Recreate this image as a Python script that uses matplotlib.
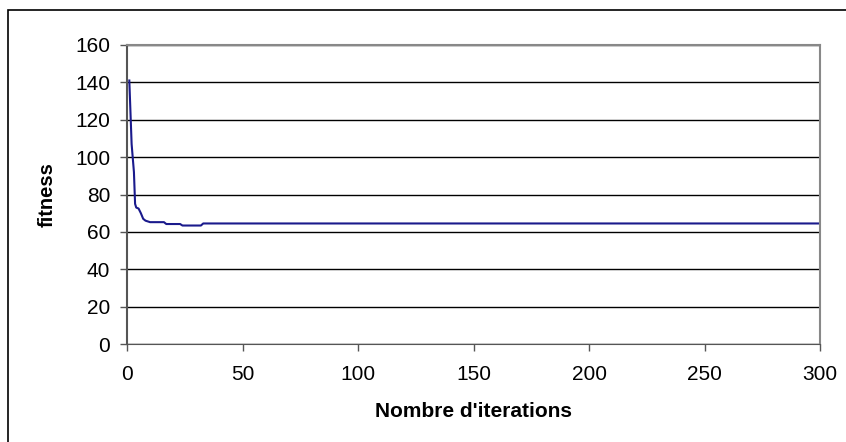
import matplotlib.pyplot as plt
from matplotlib.patches import Rectangle

# fitness values at the iterations where they change (step curve, held until 300)
iterations = [1, 2, 3, 3.5, 4, 5, 6, 7, 8, 10, 16, 17, 23, 24, 32, 33, 300]
fitness = [141, 107, 92, 75, 73, 72.5, 70, 67, 66, 65.2, 65.2, 64.2, 64.2, 63.4, 63.4, 64.5, 64.5]

x_ticks = [0, 50, 100, 150, 200, 250, 300]
y_ticks = [0, 20, 40, 60, 80, 100, 120, 140, 160]

plt.rcParams['font.family'] = ['Liberation Sans', 'DejaVu Sans']

W, H = 846, 442
fig = plt.figure(figsize=(W / 100, H / 100), dpi=100)
ax = fig.add_axes([127 / W, 1 - 344 / H, (820 - 127) / W, (344 - 45) / H])

# outer chart border (only left and top visible in the crop)
fig.patches.append(Rectangle((8 / W, -0.1), 1.2, 1 - 10 / H + 0.1,
                             transform=fig.transFigure, fill=False,
                             edgecolor='black', linewidth=1.2))

ax.plot(iterations, fitness, color='#1a1a8c', linewidth=1.5)

ax.set_xlim(0, 300)
ax.set_ylim(0, 160)
ax.set_xticks(x_ticks)
ax.set_yticks(y_ticks)
ax.grid(axis='y', color='black', linewidth=1)
ax.set_axisbelow(True)

for side in ['top', 'right']:
    ax.spines[side].set_color('#888888')
    ax.spines[side].set_linewidth(1.5)
ax.spines['left'].set_color('#555555')
ax.spines['bottom'].set_color('#555555')
ax.spines['left'].set_linewidth(1.5)

ax.tick_params(direction='out', length=5, width=1, color='#555555',
               labelsize=15)
ax.tick_params(axis='x', pad=10)
ax.tick_params(axis='y', pad=7)

ax.set_xlabel("Nombre d'iterations", fontsize=15, fontweight='bold')
ax.set_ylabel('fitness', fontsize=14.5, fontweight='bold')
ax.xaxis.set_label_coords(0.5, -0.194)
ax.yaxis.set_label_coords(-0.101, 0.5)

fig.savefig('out.png', dpi=100)
